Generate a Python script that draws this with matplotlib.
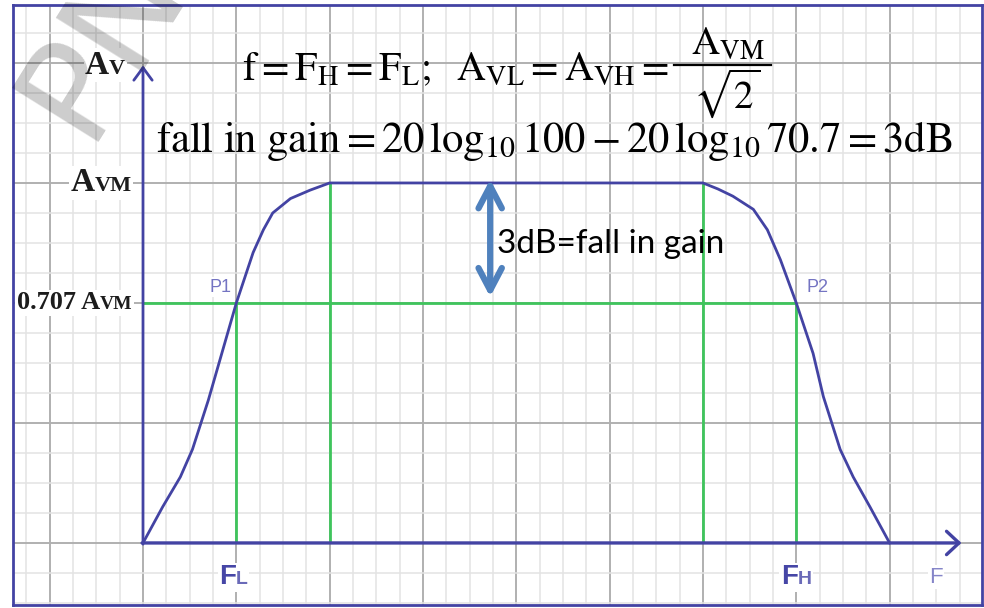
import matplotlib.pyplot as plt
from matplotlib.offsetbox import TextArea, HPacker, AnnotationBbox

plt.rcParams['mathtext.fontset'] = 'stix'

# gain curve in grid units (x: one major cell per step, y: AVM = 3)
curve_f = [0, 0.21, 0.40, 0.53, 0.70, 1.0, 1.18, 1.29, 1.39, 1.58, 1.79, 2.0,
           6.0, 6.16, 6.32, 6.54, 6.69, 6.83, 7.0, 7.18, 7.29, 7.47, 7.61, 7.79, 8.0]
curve_av = [0, 0.30, 0.55, 0.78, 1.19, 2.0, 2.42, 2.61, 2.75, 2.87, 2.94, 3.0,
            3.0, 2.95, 2.89, 2.78, 2.61, 2.36, 2.0, 1.58, 1.22, 0.78, 0.55, 0.30, 0]

# green guide lines
guide_f = [1, 2, 6, 7]
guide_top = [2, 3, 3, 2]
av_max = 3
av_707 = 2
f_low = 1
f_high = 7

blue = '#4343a3'
green = '#3fc45c'

fig = plt.figure(figsize=(9.84, 6.08), dpi=100)
ax = fig.add_axes([13 / 984, 3 / 608, 969 / 984, 600 / 608])
ax.set_xlim(-1.393, 8.99)
ax.set_ylim(-0.517, 4.483)

# graph paper
ax.set_xticks([i for i in range(-1, 9)])
ax.set_yticks([0, 1, 2, 3, 4])
ax.set_xticks([i * 0.25 for i in range(-5, 36)], minor=True)
ax.set_yticks([i * 0.25 for i in range(-2, 18)], minor=True)
ax.grid(which='major', color='#b0b0b0', lw=1.4)
ax.grid(which='minor', color='#e3e3e3', lw=1.1)
ax.tick_params(which='both', length=0, labelbottom=False, labelleft=False)
ax.set_axisbelow(True)
for s in ax.spines.values():
    s.set_color(blue)
    s.set_linewidth(2)

# axes with open arrow heads
ax.annotate('', xy=(0, 3.98), xytext=(0, -0.01),
            arrowprops=dict(arrowstyle='->,head_length=0.45,head_width=0.33', color=blue,
                            lw=2, shrinkA=0, shrinkB=0, mutation_scale=20))
ax.annotate('', xy=(8.77, 0), xytext=(-0.01, 0),
            arrowprops=dict(arrowstyle='->,head_length=0.45,head_width=0.42', color=blue,
                            lw=2.4, shrinkA=0, shrinkB=0, mutation_scale=20))

ax.vlines(guide_f, 0, guide_top, color=green, lw=2, zorder=2)
ax.hlines(av_707, 0, f_high, color=green, lw=2, zorder=2)
ax.plot(curve_f, curve_av, color=blue, lw=2, zorder=3)

# 3dB double arrow
ax.annotate('', xy=(3.72, 3.03), xytext=(3.72, 2.05),
            arrowprops=dict(arrowstyle='<->,head_length=0.8,head_width=0.42', color='#4f81bd',
                            lw=4.5, shrinkA=0, shrinkB=0, mutation_scale=20))
ax.text(3.79, 2.42, '3dB=fall in gain', fontsize=24, family='Lato', color='black')

# formulas
ax.text(1.06, 3.858, r'$\mathrm{f} = \mathrm{F_H} = \mathrm{F_L};\ \ \mathrm{A_{VL}} = \mathrm{A_{VH}} =$',
        fontsize=28.8, ha='left', va='baseline')
ax.text(6.27, 4.067, r'$\mathrm{A_{VM}}$', fontsize=28, ha='center', va='baseline')
ax.text(6.25, 3.967, r'$\sqrt{2}$', fontsize=28, ha='center', va='top')
ax.plot([5.69, 6.73], [3.983, 3.983], color='black', lw=1.6)  # fraction bar
ax.text(4.41, 3.26, r'$\mathrm{fall\ in\ gain} = 20\,\log_{10}100 - 20\,\log_{10}70.7 = 3\mathrm{dB}$',
        fontsize=30.7, ha='center', va='baseline')


def label(parts, xy, align, weight, family, bg=True):
    areas = [TextArea(t, textprops=dict(size=sz, color=c, weight=weight, family=family))
             for t, sz, c in parts]
    box = HPacker(children=areas, align='baseline', pad=0, sep=0)
    ab = AnnotationBbox(box, xy, box_alignment=align, frameon=bg, pad=0.1,
                        bboxprops=dict(fc='white', ec='none'))
    ab.set_zorder(4)
    ax.add_artist(ab)


serif = 'Liberation Serif'
ink = '#1c1c1c'
label([('A', 24, ink), ('V', 16, ink)], (-0.19, 3.98), (1, 0.5), 'bold', serif)
label([('A', 24, ink), ('VM', 16, ink)], (-0.12, av_max), (1, 0.5), 'bold', serif)
label([('0.707 A', 19, ink), ('VM', 14, ink)], (-0.11, av_707), (1, 0.5), 'bold', serif)

sans = 'Liberation Sans'
label([('F', 20, '#4646a6'), ('L', 14, '#6a6ab8')], (f_low - 0.03, -0.285), (0.5, 0.5),
      'bold', sans)
label([('F', 20, '#4646a6'), ('H', 14, '#6a6ab8')], (f_high + 0.0, -0.285), (0.5, 0.5),
      'bold', sans)
label([('F', 16, '#8585c8')], (8.5, -0.285), (0.5, 0.5), 'normal', sans)
label([('P1', 13, '#7474c2')], (0.83, 2.13), (0.5, 0.5), 'normal', sans)
label([('P2', 13, '#7474c2')], (7.23, 2.13), (0.5, 0.5), 'normal', sans, bg=False)

# watermark
fig.text(-0.005, 1 - 128 / 608, 'PN', rotation=58, fontsize=100, color='black', alpha=0.2,
         ha='left', va='baseline', zorder=10)

plt.savefig('out.png', dpi=100)
